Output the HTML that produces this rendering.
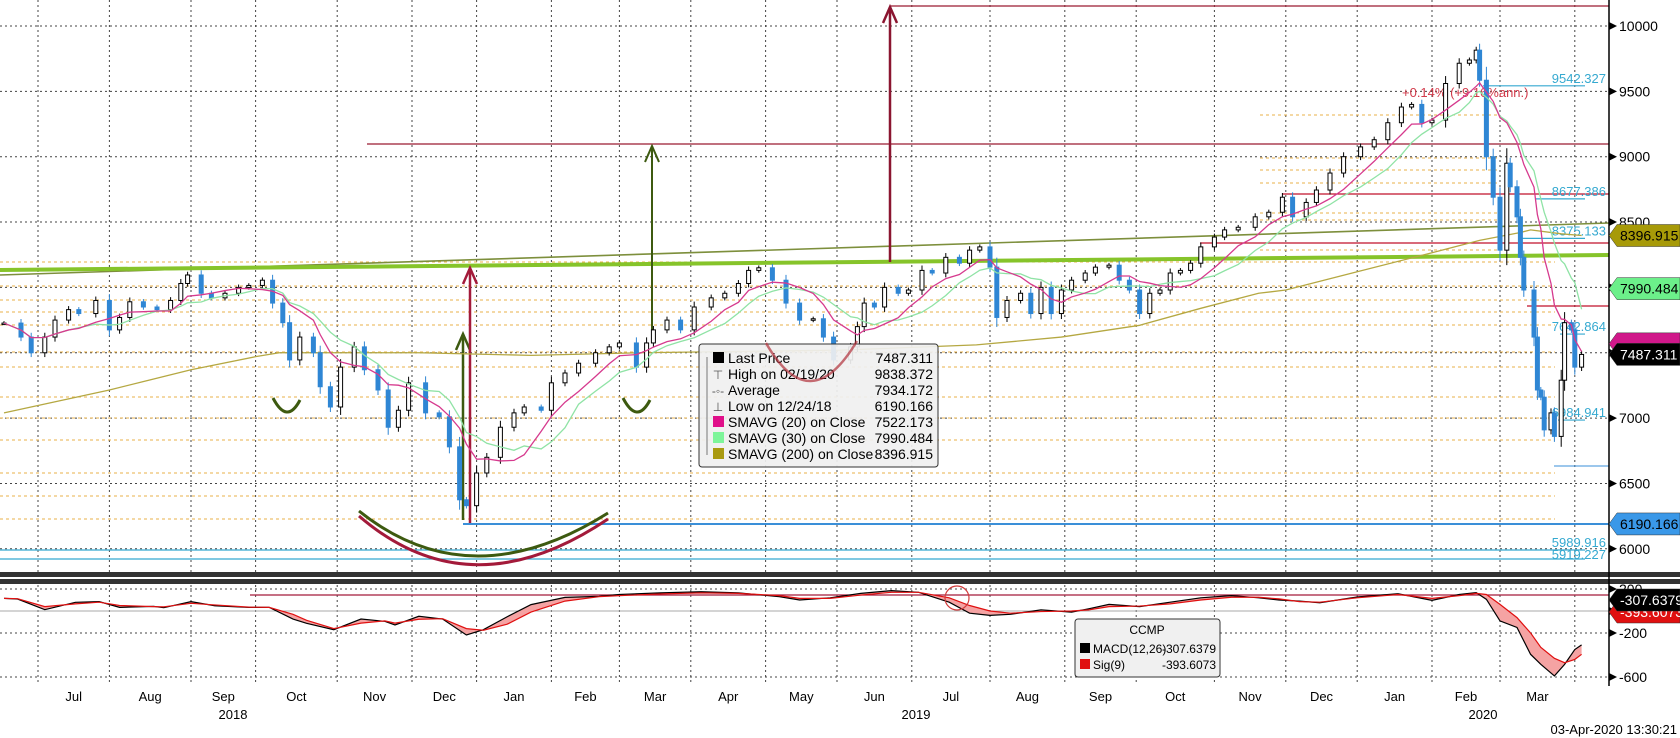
<!DOCTYPE html>
<html><head><meta charset="utf-8">
<style>
html,body{margin:0;padding:0;background:#fff;}
svg{display:block;font-family:"Liberation Sans",sans-serif;}
</style></head>
<body>
<svg id="chart" width="1680" height="738" viewBox="0 0 1680 738" xmlns="http://www.w3.org/2000/svg">
<g id="grid"></g>
<g id="studies"></g>
<g id="sma200"></g>
<g id="candles"></g>
<g id="smas"></g>
<g id="macd"></g>
<g id="axis"></g>
<g id="legend"></g>
</svg>
<script>
// ---- data ----
const monthDays = [10,31,55,74,98,120,139,161,181,202,224,245,267,290,312,333,356,377,398,420,440,462];
const monthLabels = ["Jul","Aug","Sep","Oct","Nov","Dec","Jan","Feb","Mar","Apr","May","Jun","Jul","Aug","Sep","Oct","Nov","Dec","Jan","Feb","Mar"];
const priceTicks = [10000,9500,9000,8500,8000,7500,7000,6500,6000];
const macdTicks = [200,0,-200,-600];
const days = [0,5,8,12,15,19,22,27,31,34,37,41,45,49,52,54,58,61,65,69,72,76,79,82,84,87,91,93,96,99,103,106,110,113,116,119,124,128,131,134,136,139,142,146,150,153,158,161,165,169,174,178,181,186,189,191,195,199,203,208,212,216,219,222,226,230,234,238,241,244,249,251,253,256,259,263,266,270,273,277,281,284,287,290,292,295,299,302,305,308,311,314,318,321,325,328,331,334,337,340,343,346,349,352,356,359,363,368,372,376,379,383,386,390,394,399,403,407,411,414,417,420,424,428,431,433,434,436,438,440,442,443,445,446,447,450,451,452,453,455,456,458,459,461,462,464];
const closes = [7727,7620,7500,7620,7750,7830,7800,7900,7675,7770,7890,7850,7830,7900,8030,8095,7955,7920,7955,8000,8015,8055,7880,7730,7445,7620,7500,7240,7085,7390,7545,7370,7215,6930,7060,7270,7040,7010,6780,6375,6330,6580,6700,6930,7040,7085,7060,7270,7345,7420,7500,7545,7575,7390,7575,7675,7750,7675,7850,7920,7955,8030,8130,8150,8055,7880,7750,7760,7620,7445,7545,7700,7880,7850,8000,7955,7980,8130,8110,8230,8185,8285,8310,8155,7770,7900,7955,7800,8000,7800,7980,8055,8110,8155,8170,8055,7980,7800,7955,7980,8110,8130,8185,8310,8385,8440,8460,8540,8575,8690,8540,8650,8745,8875,9000,9075,9130,9260,9380,9400,9260,9280,9560,9715,9740,9815,9585,9000,8690,8285,8950,8770,8540,8230,7980,7620,7215,7160,6910,7040,6860,7290,7730,7675,7390,7487];
const sma200Days = [0,31,55,74,81,122,155,187,246,286,311,334,352,369,377,398,420,434,446,449,458,464];
const sma200Vals = [7040,7215,7370,7470,7500,7500,7480,7500,7520,7560,7620,7710,7840,7955,7980,8120,8265,8360,8420,8440,8410,8397];
const macdDays = [0,4,12,21,28,34,44,47,55,62,72,78,85,89,97,105,112,115,122,129,136,141,148,155,165,175,181,193,205,216,228,234,243,252,261,269,278,284,290,296,305,314,319,325,334,343,352,361,369,375,381,387,398,410,420,428,433,436,440,445,449,452,456,459,462,464];
const macdVals = [115,109,12,79,85,33,42,30,85,48,33,33,-73,-112,-170,-73,-94,-127,-48,-73,-218,-170,-52,58,124,133,150,165,175,165,130,100,120,160,185,170,80,-20,-40,-30,10,-10,20,60,40,80,120,140,120,100,90,75,127,157,97,150,167,106,-90,-150,-394,-485,-590,-485,-350,-307.6];
const sigVals = [115,112,40,65,80,50,40,38,70,55,35,33,-30,-85,-160,-110,-90,-110,-75,-70,-160,-175,-120,-10,90,130,140,155,165,160,140,115,115,145,170,170,120,50,0,-20,-5,0,10,40,45,65,100,125,125,110,85,80,120,150,115,140,160,150,60,-60,-200,-330,-430,-470,-440,-393.6];

// ---- scales ----
const NS="http://www.w3.org/2000/svg";
const xS = t => 4 + t*3.4;
const yP = p => 26 + (10000-p)*0.1307;
const yM = v => 611 - v*0.11;
const AXR = 1609;
function mk(tag, attrs, parent, text){
  const e=document.createElementNS(NS,tag);
  for(const k in attrs) e.setAttribute(k,attrs[k]);
  if(text!==undefined) e.textContent=text;
  parent.appendChild(e); return e;
}
const G = id => document.getElementById(id);

// ---- grid ----
const grid=G('grid');
monthDays.forEach(d=>{
  const l=mk('line',{x1:xS(d),x2:xS(d),y1:0,y2:685,stroke:'#444','stroke-width':1,'stroke-dasharray':'2,3'},grid);
  
  
});
priceTicks.forEach(p=>{
  const l=mk('line',{x1:0,x2:AXR,y1:yP(p),y2:yP(p),stroke:'#444','stroke-width':1,'stroke-dasharray':'2,3'},grid);
  
  
});
macdTicks.forEach(v=>{
  if(v===0) return;
  const l=mk('line',{x1:0,x2:AXR,y1:yM(v),y2:yM(v),stroke:'#444','stroke-width':1,'stroke-dasharray':'2,3'},grid);
  
  
});

// ---- annotations ----
const st=G('studies');
const orangeLow=[262,286,300,312,325,352,367,397,418,440,473,496,519];
orangeLow.forEach(y=>mk('line',{x1:0,x2:1555,y1:y,y2:y,stroke:'#e8b04a','stroke-width':1,'stroke-dasharray':'3,3'},st));
[115,158,170,183,213,220,250].forEach(y=>mk('line',{x1:1260,x2:1500,y1:y,y2:y,stroke:'#e8b04a','stroke-width':1,'stroke-dasharray':'3,3'},st));
mk('line',{x1:0,x2:1585,y1:550,y2:550,stroke:'#35a9d0','stroke-width':1.2},st);
mk('line',{x1:0,x2:1585,y1:559,y2:559,stroke:'#35a9d0','stroke-width':1.2},st);
mk('line',{x1:463,x2:AXR,y1:yP(6190.166),y2:yP(6190.166),stroke:'#3a8fd8','stroke-width':2},st);
mk('line',{x1:890,x2:AXR,y1:6,y2:6,stroke:'#9b1b30','stroke-width':1.3},st);
mk('line',{x1:367,x2:AXR,y1:144,y2:144,stroke:'#9b1b30','stroke-width':1.3},st);
mk('line',{x1:1282,x2:AXR,y1:194,y2:194,stroke:'#c0102a','stroke-width':1.2},st);
mk('line',{x1:1200,x2:AXR,y1:243,y2:243,stroke:'#c0102a','stroke-width':1.2},st);
mk('line',{x1:1527,x2:AXR,y1:306,y2:306,stroke:'#c0102a','stroke-width':1.2},st);
mk('line',{x1:0,x2:AXR,y1:275,y2:223,stroke:'#7d8f3c','stroke-width':1.6},st);
mk('line',{x1:0,x2:AXR,y1:270,y2:255,stroke:'#86c42a','stroke-width':4},st);
function arrow(x,y1,y2,col,w){
  mk('line',{x1:x,x2:x,y1:y1,y2:y2,stroke:col,'stroke-width':w},st);
  mk('polyline',{points:`${x-7},${y2+16} ${x},${y2} ${x+7},${y2+16}`,fill:'none',stroke:col,'stroke-width':w},st);
}
arrow(890,262,7,'#8b1530',2.5);
arrow(652,337,146,'#3d5a10',2);
arrow(463,520,334,'#3d5a10',2.5);
arrow(470,523,268,'#a31a3a',2.5);
const cy=[[9542.327,1483],[8677.386,1535],[8375.133,1520],[7642.864,1560],[6984.941,1558]];
cy.forEach(([v,x0])=>{
  const y=yP(v);
  mk('line',{x1:x0,x2:1585,y1:y,y2:y,stroke:'#35a9d0','stroke-width':1.2},st);
  mk('text',{x:1606,y:y-3,'text-anchor':'end','font-size':13,fill:'#35a9d0'},st,v.toFixed(3));
});
mk('text',{x:1606,y:547,'text-anchor':'end','font-size':13,fill:'#35a9d0'},st,'5989.916');
mk('text',{x:1606,y:559,'text-anchor':'end','font-size':13,fill:'#35a9d0'},st,'5919.227');
mk('line',{x1:1554,x2:AXR,y1:466,y2:466,stroke:'#3a8fd8','stroke-width':1},st);
mk('text',{x:1402,y:97,'font-size':13,fill:'#d23a4a'},st,'+0.14% (+9.16%ann.)');
mk('path',{d:'M273,398 Q287,425 300,400',fill:'none',stroke:'#3d5a10','stroke-width':3},st);
mk('path',{d:'M623,398 Q637,425 650,400',fill:'none',stroke:'#3d5a10','stroke-width':3},st);
mk('path',{d:'M359,511 Q470,600 608,513',fill:'none',stroke:'#3d5a10','stroke-width':3},st);
mk('path',{d:'M359,516 Q470,612 608,519',fill:'none',stroke:'#a31a3a','stroke-width':3},st);

// ---- sma200 ----
const s2=G('sma200');
const p200=mk('polyline',{points:sma200Days.map((d,i)=>xS(d)+','+yP(sma200Vals[i])).join(' '),fill:'none',stroke:'#b5a842','stroke-width':1.3},s2);



// ---- candles ----
const cg=G('candles');
closes.forEach((c,i)=>{
  const o = i>0?closes[i-1]:c;
  const up = c>=o;
  const x=xS(days[i]);
  const hi=Math.max(o,c)+15+0.15*Math.abs(c-o);
  const lo=Math.min(o,c)-15-0.15*Math.abs(c-o);
  const col= up?'#000':'#2f86d4';
  const w=mk('line',{x1:x,x2:x,y1:yP(hi),y2:yP(lo),stroke:col,'stroke-width':1},cg);
  
  
  const top=yP(Math.max(o,c)), h=Math.max(1.5,yP(Math.min(o,c))-top);
  const b=mk('rect',{x:x-2,y:top,width:4,height:h,fill:up?'#fff':'#2f86d4',stroke:up?'#000':'#2f86d4','stroke-width':1},cg);
  
  
});

// ---- sma20/30 ----
const sg=G('smas');
function sma(n){
  return closes.map((c,i)=>{
    let s=0,k=0;
    for(let j=i;j>=0 && days[i]-days[j]<n;j--){s+=closes[j];k++;}
    return s/k;
  });
}
const s30=sma(30), s20=sma(20);
const l30=mk('polyline',{points:days.map((d,i)=>xS(d)+','+yP(s30[i])).join(' '),fill:'none',stroke:'#8fe3a5','stroke-width':1.3},sg);


const l20=mk('polyline',{points:days.map((d,i)=>xS(d)+','+yP(s20[i])).join(' '),fill:'none',stroke:'#d63a8e','stroke-width':1.3},sg);



// ---- MACD ----
const mg=G('macd');
mk('rect',{x:0,y:572,width:1680,height:5,fill:'#333'},mg);
mk('rect',{x:0,y:579,width:1680,height:5,fill:'#333'},mg);
mk('line',{x1:0,x2:AXR,y1:yM(0),y2:yM(0),stroke:'#aaa','stroke-width':1},mg);
mk('line',{x1:250,x2:AXR,y1:595,y2:595,stroke:'#a31a3a','stroke-width':1.2},mg);
const mp=macdDays.map((d,i)=>xS(d)+','+yM(macdVals[i]));
const sp=macdDays.map((d,i)=>xS(d)+','+yM(sigVals[i]));
mk('polygon',{points:mp.concat(sp.slice().reverse()).join(' '),fill:'#f5a3a3',stroke:'none'},mg);
const ml=mk('polyline',{points:mp.join(' '),fill:'none',stroke:'#000','stroke-width':1.2},mg);


const sl=mk('polyline',{points:sp.join(' '),fill:'none',stroke:'#e01010','stroke-width':1.2},mg);


mk('circle',{cx:957,cy:598,r:12,fill:'none',stroke:'#d23a3a','stroke-width':1.2},mg);

// ---- axes ----
const ax=G('axis');
mk('line',{x1:AXR,x2:AXR,y1:0,y2:686,stroke:'#000','stroke-width':1.5},ax);
priceTicks.forEach(p=>{
  const y=yP(p);
  mk('polygon',{points:`${AXR},${y-4} ${AXR+8},${y} ${AXR},${y+4}`,fill:'#000'},ax);
  const t=mk('text',{x:AXR+10,y:y+5,'font-size':14,fill:'#000'},ax,String(p));
  
  
});
macdTicks.forEach(v=>{
  const y=yM(v);
  mk('polygon',{points:`${AXR},${y-4} ${AXR+8},${y} ${AXR},${y+4}`,fill:'#000'},ax);
  const t=mk('text',{x:AXR+10,y:y+5,'font-size':14,fill:'#000'},ax,String(v));
  
  
});
monthLabels.forEach((m,i)=>{
  const x=(xS(monthDays[i])+xS(monthDays[i+1]))/2;
  const t=mk('text',{x:x,y:701,'text-anchor':'middle','font-size':13,fill:'#000'},ax,m);
  
  
});
[['2018',233],['2019',916],['2020',1483]].forEach(([s,x])=>mk('text',{x:x,y:719,'text-anchor':'middle','font-size':13,fill:'#000'},ax,s));
mk('text',{x:1677,y:734,'text-anchor':'end','font-size':13,fill:'#000'},ax,'03-Apr-2020 13:30:21');
function tag(y,txt,bg,fg){
  mk('polygon',{points:`${AXR},${y} ${AXR+8},${y-11} 1680,${y-11} 1680,${y+11} ${AXR+8},${y+11}`,fill:bg,stroke:'#333','stroke-width':0.5},ax);
  mk('text',{x:AXR+11,y:y+5,'font-size':14,fill:fg},ax,txt);
}
tag(yP(8396.915),'8396.915','#a79a08','#000');
tag(yP(7990.484),'7990.484','#6cf08a','#000');
tag(yP(7522.173)-6,'','#d0188a','#fff');
tag(yP(7487.311),'7487.311','#000','#fff');
tag(yP(6190.166),'6190.166','#3a98e8','#000');
tag(612,'-393.6073','#e01010','#fff');
tag(600,'-307.6379','#000','#fff');

// ---- legend ----
const lg=G('legend');
mk('rect',{x:699,y:344,width:239,height:123,rx:3,fill:'#f0f0f0','fill-opacity':0.92,stroke:'#333','stroke-width':1},lg);
const rows=[['Last Price','7487.311','#000'],['High on 02/19/20','9838.372',null],['Average','7934.172',null],['Low on 12/24/18','6190.166',null],['SMAVG (20)  on Close','7522.173','#e0108a'],['SMAVG (30)  on Close','7990.484','#7ef59a'],['SMAVG (200)  on Close','8396.915','#a99a10']];
const glyph=['','⊤','-◦-','⊥'];
mk('line',{x1:707,x2:707,y1:357,y2:455,stroke:'#777','stroke-width':1},lg);
rows.forEach((r,i)=>{
  const y=358+i*16;
  if(r[2]) mk('rect',{x:713,y:y-6,width:11,height:11,fill:r[2]},lg);
  else mk('text',{x:718,y:y+5,'text-anchor':'middle','font-size':12,fill:'#555'},lg,glyph[i]);
  const t=mk('text',{x:728,y:y+5,'font-size':14,fill:'#000'},lg,r[0]);
  
  
  mk('text',{x:933,y:y+5,'text-anchor':'end','font-size':14,fill:'#000'},lg,r[1]);
});
mk('path',{d:'M766,343 Q810,420 857,341',fill:'none',stroke:'#b0303a','stroke-width':2.5,'stroke-opacity':0.7},lg);
mk('rect',{x:1075,y:619,width:145,height:58,rx:3,fill:'#f0f0f0',stroke:'#333','stroke-width':1},lg);
mk('text',{x:1147,y:634,'text-anchor':'middle','font-size':12,fill:'#000'},lg,'CCMP');
mk('rect',{x:1080,y:643,width:10,height:10,fill:'#000'},lg);
mk('text',{x:1093,y:653,'font-size':12,fill:'#000'},lg,'MACD(12,26)');
mk('text',{x:1216,y:653,'text-anchor':'end','font-size':12,fill:'#000'},lg,'-307.6379');
mk('rect',{x:1080,y:659,width:10,height:10,fill:'#e01010'},lg);
mk('text',{x:1093,y:669,'font-size':12,fill:'#000'},lg,'Sig(9)');
mk('text',{x:1216,y:669,'text-anchor':'end','font-size':12,fill:'#000'},lg,'-393.6073');
</script>
</body></html>
